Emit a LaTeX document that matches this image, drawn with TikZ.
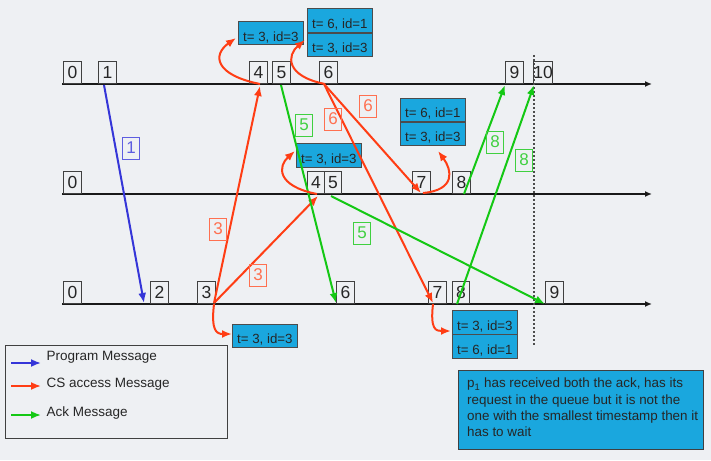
\documentclass[tikz,border=0pt]{standalone}
\usepackage{fontspec}
\setmainfont{Liberation Sans}
\usetikzlibrary{arrows.meta}
\definecolor{bg}{HTML}{EEF0F3}
\definecolor{qblue}{HTML}{1AA7DE}
\definecolor{cred}{HTML}{FF3D14}
\definecolor{cgreen}{HTML}{14C814}
\definecolor{pblue}{HTML}{3535D8}
\definecolor{lred}{HTML}{FF7050}
\definecolor{lgreen}{HTML}{40D040}
\begin{document}
\begin{tikzpicture}[x=1pt,y=-1pt,
  clk/.style={draw=black!75, line width=0.8pt, minimum width=18pt, minimum height=22pt, inner sep=0pt, anchor=south west, font=\fontsize{17.5}{17.5}\selectfont, text=black!85},
  qbox/.style={draw=black!70, fill=qblue, line width=0.8pt, minimum width=65pt, minimum height=23.5pt, inner sep=0pt, anchor=north west, font=\fontsize{13.3}{13.3}\selectfont, text=black!85, text height=16pt, text depth=0pt},
  lab/.style={line width=0.8pt, minimum width=17pt, minimum height=22pt, inner sep=0pt, font=\fontsize{17}{17}\selectfont},
  redlab/.style={lab, draw=lred, text=lred},
  greenlab/.style={lab, draw=lgreen, text=lgreen},
  bluelab/.style={lab, draw=pblue!80, text=pblue!80},
  tline/.style={line width=1.8pt, black!90, -{Latex[length=7pt,width=6pt]}},
  msg/.style={line width=2pt, -{Latex[length=10pt,width=8pt]}},
  pmsg/.style={msg, pblue},
  rmsg/.style={msg, cred},
  gmsg/.style={msg, cgreen},
  legtxt/.style={anchor=west, font=\fontsize{13.5}{13.5}\selectfont, text=black!85}
]
\fill[bg] (0,0) rectangle (711,460);
\useasboundingbox (0,0) rectangle (711,460);

% timelines
\coordinate (p1s) at (62,84); \coordinate (p1e) at (652,84);
\coordinate (p2s) at (62,194); \coordinate (p2e) at (652,194);
\coordinate (p3s) at (62,304); \coordinate (p3e) at (652,304);
\draw[tline] (p1s) -- (p1e);
\draw[tline] (p2s) -- (p2e);
\draw[tline] (p3s) -- (p3e);

% dashed line
\coordinate (dtop) at (534,55); \coordinate (dbot) at (534,346);
\draw[black!70, line width=1.2pt, dash pattern=on 2pt off 2pt] (dtop) -- (dbot);

% clocks P1
\node[clk] (a0) at (63,84) {0};
\node[clk] (a1) at (98,84) {1};
\node[clk] (a4) at (249,84) {4};
\node[clk] (a5) at (272,84) {5};
\node[clk] (a6) at (319,84) {6};
\node[clk] (a9) at (505,84) {9};
\node[clk, minimum width=19pt] (a10) at (533,84) {10};
% clocks P2
\node[clk] (b0) at (63,194) {0};
\node[clk, minimum width=17pt] (b4) at (307,194) {4};
\node[clk, minimum width=17pt] (b5) at (324,194) {5};
\node[clk] (b7) at (412,194) {7};
\node[clk] (b8) at (452,194) {8};
% clocks P3
\node[clk] (c0) at (63,304) {0};
\node[clk] (c2) at (150,304) {2};
\node[clk] (c3) at (197,304) {3};
\node[clk] (c6) at (336,304) {6};
\node[clk] (c7) at (428,304) {7};
\node[clk, minimum width=17pt] (c8) at (452,304) {8};
\node[clk] (c9) at (545,304) {9};

% queue boxes
\node[qbox] (qa) at (238,21) {t= 3, id=3};
\node[qbox] (qb1) at (307,8.5) {t= 6, id=1};
\node[qbox] (qb2) at (qb1.south west) {t= 3, id=3};
\node[qbox] (qc) at (296,143) {t= 3, id=3};
\node[qbox] (qd1) at (400,97.5) {t= 6, id=1};
\node[qbox] (qd2) at (qd1.south west) {t= 3, id=3};
\node[qbox] (qe) at (232,323.5) {t= 3, id=3};
\node[qbox] (qf1) at (452,310) {t= 3, id=3};
\node[qbox] (qf2) at (qf1.south west) {t= 6, id=1};

% message endpoints
\coordinate (m1s) at (104,85);  \coordinate (m1e) at (144,303);
\coordinate (r3) at (214,303);
\coordinate (r3a) at (260,86);
\coordinate (r3b) at (318,196);
\coordinate (r6s) at (324,84);
\coordinate (r6a) at (421,193);
\coordinate (r6b) at (433,303);
\coordinate (g5as) at (281,85); \coordinate (g5ae) at (336,303);
\coordinate (g5bs) at (331,196); \coordinate (g5be) at (545,304);
\coordinate (g8as) at (464,194); \coordinate (g8ae) at (505,85);
\coordinate (g8bs) at (457,304); \coordinate (g8be) at (534,85);
% loop starts/ends
\coordinate (l1s) at (260,84); \coordinate (l1e) at (236,38);
\coordinate (l2s) at (325,84); \coordinate (l2e) at (305,40);
\coordinate (l3s) at (317,194); \coordinate (l3e) at (295,151);
\coordinate (l4s) at (423,193); \coordinate (l4e) at (438,151);
\coordinate (l5s) at (214,304); \coordinate (l5e) at (232,334);
\coordinate (l6s) at (433,304); \coordinate (l6e) at (451,331);

% messages
\draw[pmsg] (m1s) -- (m1e);
\draw[rmsg] (r3) -- (r3a);
\draw[rmsg] (r3) -- (r3b);
\draw[rmsg] (r6s) -- (r6a);
\draw[rmsg] (r6s) -- (r6b);
\draw[gmsg] (g5as) -- (g5ae);
\draw[gmsg] (g5bs) -- (g5be);
\draw[gmsg] (g8as) -- (g8ae);
\draw[gmsg] (g8bs) -- (g8be);

% self loops
\draw[rmsg] (l1s) .. controls (215,75) and (212,55) .. (l1e);
\draw[rmsg] (l2s) .. controls (285,76) and (287,55) .. (l2e);
\draw[rmsg] (l3s) .. controls (276,186) and (278,166) .. (l3e);
\draw[rmsg] (l4s) .. controls (456,190) and (452,170) .. (l4e);
\draw[rmsg] (l5s) .. controls (211,330) and (216,334) .. (l5e);
\draw[rmsg] (l6s) .. controls (430,330) and (436,331) .. (l6e);

% labels
\node[bluelab] (lb1) at (131,148) {1};
\node[redlab] (lr3a) at (218,229) {3};
\node[redlab] (lr3b) at (258,275) {3};
\node[redlab] (lr6a) at (333,119) {6};
\node[redlab] (lr6b) at (368,106) {6};
\node[greenlab] (lg5a) at (304,125) {5};
\node[greenlab] (lg5b) at (362,233) {5};
\node[greenlab] (lg8a) at (495,142) {8};
\node[greenlab] (lg8b) at (524,160) {8};

% legend
\node[draw=black!75, line width=1pt, minimum width=222pt, minimum height=93pt, inner sep=0pt, anchor=north west] (legend) at (5,345) {};
\coordinate (lg1s) at (11,363); \coordinate (lg1e) at (41,363);
\coordinate (lg2s) at (11,386); \coordinate (lg2e) at (41,386);
\coordinate (lg3s) at (11,415); \coordinate (lg3e) at (41,415);
\draw[pmsg, line width=1.8pt] (lg1s) -- (lg1e);
\draw[rmsg, line width=1.8pt] (lg2s) -- (lg2e);
\draw[gmsg, line width=1.8pt] (lg3s) -- (lg3e);
\node[legtxt] (t1) at (43,357) {Program Message};
\node[legtxt] (t2) at (43,384) {CS access Message};
\node[legtxt] (t3) at (43,413) {Ack Message};

% note
\node[draw=black!75, fill=qblue, line width=1pt, minimum width=245pt, minimum height=79pt, inner sep=0pt, anchor=north west] (note) at (458,370) {};
\node[anchor=north west, align=left, inner sep=0pt, font=\fontsize{13.4}{16.2}\selectfont, text=black!85] (notetxt) at (467,378)
 {p\textsubscript{1} has received both the ack, has its\\request in the queue but it is not the\\one with the smallest timestamp then it\\has to wait};
\end{tikzpicture}
\end{document}
